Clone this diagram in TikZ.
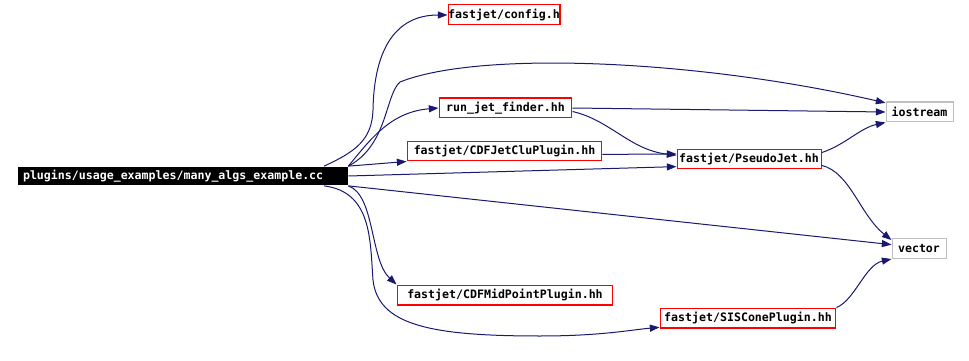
\documentclass[tikz,border=0pt]{standalone}
\usepackage{fontspec}
\usepackage{xcolor}
\usepackage{tikz}
\usetikzlibrary{positioning,arrows.meta}
\newfontfamily\dxmono{DejaVu Sans Mono}
\definecolor{edge}{HTML}{191970}
\definecolor{frame}{HTML}{BFBFBF}

\begin{document}
\begin{tikzpicture}[x=0.02cm,y=-0.02cm,
  font=\dxmono\bfseries\fontsize{6.6}{8}\selectfont,
  hdr/.style={draw=red,fill=white,line width=0.57pt,inner sep=0pt,minimum height=0.4cm},
  sys/.style={draw=frame,fill=white,line width=0.57pt,inner sep=0pt,minimum height=0.4cm},
  src/.style={fill=black,text=white,inner xsep=0.1cm,inner ysep=0pt,minimum height=0.38cm,
    text width=6.4cm,align=left},
  arr/.style={-{Triangle[length=5.5pt,width=4pt]},edge,line width=0.57pt}]
\useasboundingbox (0,0) rectangle (969,361);
\node[src] (main) at (183,176) {plugins/usage\_examples/many\_algs\_example.cc};
\node[hdr,minimum width=2.24cm] (config) at (504,15) {fastjet/config.h};
\node[hdr,minimum width=2.66cm] (run) at (505.5,108) {run\_jet\_finder.hh};
\node[hdr,minimum width=3.9cm] (cdfjc) at (504.5,151) {fastjet/CDFJetCluPlugin.hh};
\node[hdr,minimum width=2.88cm] (pj) at (749,159) {fastjet/PseudoJet.hh};
\node[hdr,minimum width=4.32cm] (cdfmp) at (505,295) {fastjet/CDFMidPointPlugin.hh};
\node[hdr,minimum width=3.52cm] (sis) at (748,318) {fastjet/SISConePlugin.hh};
\node[sys,minimum width=1.34cm] (io) at (919.5,112) {iostream};
\node[sys,minimum width=1.08cm] (vec) at (919,248.5) {vector};
% straight includes
\foreach \a/\b in {main.north east/cdfjc.south west,main.east/pj.186,main.south east/vec.172,
  run.east/io.west,cdfjc.-2/pj.176}
  \draw[arr] (\a) -- (\b);
% curved includes
\draw[arr] (main.4) .. controls (355,152) and (372,140) .. (373,110)
  .. controls (374,50) and (395,15) .. (config.west);
\draw[arr] (main.north east) .. controls (388,145) and (385,95) .. (400,82)
  .. controls (480,50) and (700,60) .. (io.165);
\draw[arr] (main.north east) .. controls (370,140) and (390,112) .. (run.west);
\draw[arr] (main.south east) .. controls (375,195) and (370,260) .. (cdfmp.north west);
\draw[arr] (main.-4) .. controls (372,192) and (370,240) .. (373,280)
  .. controls (378,325) and (430,336) .. (540,336)
  .. controls (600,336) and (630,330) .. (sis.186);
\draw[arr] (run.-3) .. controls (610,120) and (630,150) .. (pj.177);
\draw[arr] (pj.5) .. controls (845,145) and (860,128) .. (io.south west);
\draw[arr] (pj.-5) .. controls (850,172) and (860,215) .. (vec.163);
\draw[arr] (sis.north east) .. controls (855,300) and (865,265) .. (vec.south west);
\end{tikzpicture}
\end{document}
